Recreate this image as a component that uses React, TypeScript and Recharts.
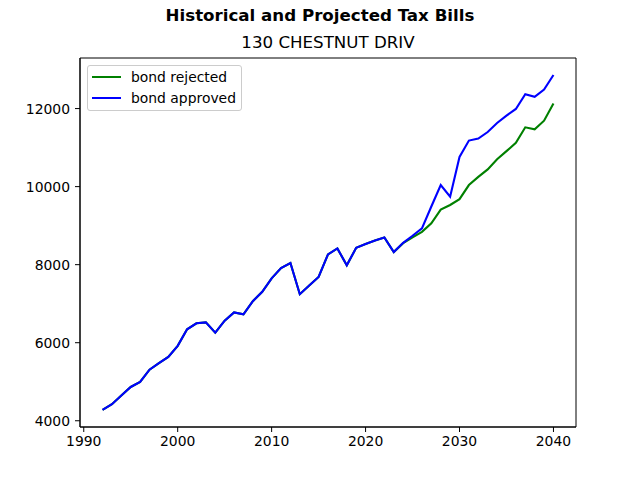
import { LineChart, Line, XAxis, YAxis, ReferenceArea } from "recharts";

const years = Array.from({ length: 49 }, (_, i) => 1992 + i);

// 1992..2023, shared by both scenarios
const historical = [
  4280, 4425, 4645, 4866, 4994, 5308, 5478, 5638, 5919, 6344, 6497, 6522,
  6259, 6565, 6777, 6726, 7065, 7304, 7651, 7915, 8043, 7243, 7465, 7686,
  8263, 8416, 7982, 8433, 8527, 8619, 8696, 8323,
];

// 2024..2040
const rejected = [
  8550, 8700, 8840, 9060, 9410, 9530, 9680, 10040, 10250, 10440, 10700,
  10910, 11120, 11520, 11470, 11690, 12130,
];
const approved = [
  8560, 8740, 8930, 9490, 10040, 9740, 10760, 11180, 11230, 11400, 11630,
  11820, 11990, 12370, 12300, 12490, 12860,
];

const xTicks = [1990, 2000, 2010, 2020, 2030, 2040];
const yTicks = [4000, 6000, 8000, 10000, 12000];

const data = years.map((year, i) => ({
  year,
  rejected: i < historical.length ? historical[i] : rejected[i - historical.length],
  approved: i < historical.length ? historical[i] : approved[i - historical.length],
}));

const font = "'DejaVu Sans', sans-serif";
const xDomain = [1989.6, 2042.4];
const yDomain = [3840, 13296];

// legend drawn as an overlay so recharts doesn't shrink the plot for it
function LegendBox() {
  const rows = [
    { label: "bond rejected", color: "#008000" },
    { label: "bond approved", color: "#0000ff" },
  ];
  return (
    <div
      style={{
        position: "absolute",
        left: 87,
        top: 65,
        width: 153,
        height: 44,
        border: "1px solid #cccccc",
        borderRadius: 3,
        background: "rgba(255,255,255,0.8)",
        fontFamily: font,
        fontSize: 13.9,
      }}
    >
      {rows.map((r, i) => (
        <div
          key={r.label}
          style={{ position: "absolute", left: 0, top: 2 + i * 21, height: 18, width: "100%" }}
        >
          <div
            style={{
              position: "absolute",
              left: 4,
              top: 8,
              width: 29,
              height: 2,
              background: r.color,
            }}
          />
          <div style={{ position: "absolute", left: 43, top: 0, lineHeight: "18px", whiteSpace: "nowrap" }}>
            {r.label}
          </div>
        </div>
      ))}
    </div>
  );
}

export default function App() {
  return (
    <div style={{ position: "absolute", left: 0, top: 0, width: 640, height: 480, background: "#fff" }}>
      <div
        style={{
          position: "absolute",
          top: 8,
          left: 0,
          width: 640,
          textAlign: "center",
          fontFamily: font,
          fontWeight: "bold",
          fontSize: 16.67,
          lineHeight: 1,
        }}
      >
        Historical and Projected Tax Bills
      </div>
      <div
        style={{
          position: "absolute",
          top: 35,
          left: 80,
          width: 496,
          textAlign: "center",
          fontFamily: font,
          fontSize: 16.67,
          lineHeight: 1,
        }}
      >
        130 CHESTNUT DRIV
      </div>
      <LineChart
        width={640}
        height={480}
        data={data}
        margin={{ top: 58, right: 64, left: 20, bottom: 23 }}
      >
        <XAxis
          dataKey="year"
          type="number"
          domain={xDomain}
          ticks={xTicks}
          allowDataOverflow
          height={30}
          tickSize={5}
          tickMargin={4}
          stroke="#000"
          tick={{ fill: "#000", fontFamily: font, fontSize: 13.9 }}
        />
        <YAxis
          type="number"
          domain={yDomain}
          ticks={yTicks}
          allowDataOverflow
          width={60}
          tickSize={5}
          tickMargin={5}
          stroke="#000"
          tick={{ fill: "#000", fontFamily: font, fontSize: 13.9 }}
        />
        <ReferenceArea
          x1={xDomain[0]}
          x2={xDomain[1]}
          y1={yDomain[0]}
          y2={yDomain[1]}
          fill="none"
          stroke="#000"
          strokeWidth={1}
          ifOverflow="visible"
        />
        <Line
          dataKey="rejected"
          name="bond rejected"
          stroke="#008000"
          strokeWidth={2.1}
          dot={false}
          isAnimationActive={false}
        />
        <Line
          dataKey="approved"
          name="bond approved"
          stroke="#0000ff"
          strokeWidth={2.1}
          dot={false}
          isAnimationActive={false}
        />
      </LineChart>
      <LegendBox />
    </div>
  );
}
